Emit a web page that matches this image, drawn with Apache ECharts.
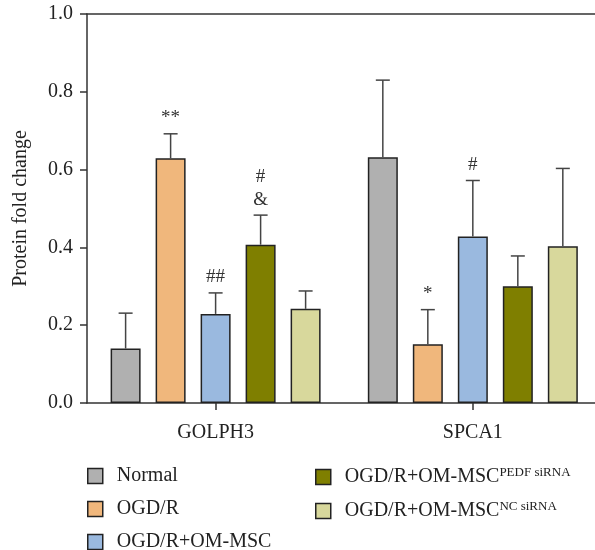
<!DOCTYPE html>
<html>
<head>
<meta charset="utf-8">
<script src="https://cdn.jsdelivr.net/npm/echarts@6/dist/echarts.min.js"></script>
<style>
html, body { margin: 0; padding: 0; background: #fff; }
#chart { width: 595px; height: 550px; }
</style>
</head>
<body>
<div id="chart"></div>
<script>
// categories and groups
var categories = ['GOLPH3', 'SPCA1']
var groups = ['Normal', 'OGD/R', 'OGD/R+OM-MSC', 'OGD/R+OM-MSC PEDF siRNA', 'OGD/R+OM-MSC NC siRNA']
var yTicks = [0, 0.2, 0.4, 0.6, 0.8, 1.0]

// means, per group (GOLPH3, SPCA1)
var normal = [0.140, 0.632]
var ogdr = [0.629, 0.151]
var omMsc = [0.229, 0.428]
var pedf = [0.407, 0.300]
var nc = [0.242, 0.403]

// SD (upper error bar only)
var normalSd = [0.091, 0.198]
var ogdrSd = [0.063, 0.089]
var omMscSd = [0.054, 0.144]
var pedfSd = [0.076, 0.078]
var ncSd = [0.046, 0.200]

// significance marks
var normalMark = ['', '']
var ogdrMark = ['**', '*']
var omMscMark = ['##', '#']
var pedfMark = ['#\n&', '']
var ncMark = ['', '']

var means = [normal, ogdr, omMsc, pedf, nc]
var sds = [normalSd, ogdrSd, omMscSd, pedfSd, ncSd]
var marks = [normalMark, ogdrMark, omMscMark, pedfMark, ncMark]
var colors = ['#b0b0b0', '#f0b77c', '#9ab9df', '#7f7f00', '#d8d89c']

var FONT = 'Liberation Serif'
var barW = 30
var step = 45
// x runs past the right edge of the picture, as in the original
var xMin = -0.5
var xMax = 1.475

var chart = echarts.init(document.getElementById('chart'))

var series = []
groups.forEach(function (g, i) {
  series.push({
    name: g,
    type: 'bar',
    data: means[i].map(function (v, k) { return [k, v] }),
    barWidth: barW,
    barGap: '50%',
    itemStyle: { color: colors[i], borderColor: '#222', borderWidth: 1.5 }
  })
})
groups.forEach(function (g, i) {
  series.push({
    name: g + ' err',
    type: 'custom',
    z: 3,
    data: means[i].map(function (v, k) { return [k, v, v + sds[i][k]] }),
    renderItem: function (params, api) {
      var k = api.value(0)
      var dx = (i - 2) * step
      var base = api.coord([k, api.value(1)])
      var top = api.coord([k, api.value(2)])
      var x = base[0] + dx
      var mark = marks[i][k]
      var children = [
        { type: 'line', shape: { x1: x, y1: base[1], x2: x, y2: top[1] }, style: { stroke: '#444', lineWidth: 1.5 } },
        { type: 'line', shape: { x1: x - 7, y1: top[1], x2: x + 7, y2: top[1] }, style: { stroke: '#444', lineWidth: 1.5 } }
      ]
      if (mark) {
        children.push({
          type: 'text',
          style: {
            x: x, y: top[1] - 4, text: mark,
            font: '19px ' + FONT, fill: '#333',
            align: 'center', verticalAlign: 'bottom', lineHeight: 23
          }
        })
      }
      return { type: 'group', children: children }
    }
  })
})

var rich = {
  m: { fontFamily: FONT, fontSize: 20, color: '#222' },
  s: { fontFamily: FONT, fontSize: 13, color: '#222', verticalAlign: 'top', padding: [0, 0, 9, 0] }
}
function legendFmt (name) {
  if (name === groups[3]) return '{m|OGD/R+OM-MSC}{s|PEDF siRNA}'
  if (name === groups[4]) return '{m|OGD/R+OM-MSC}{s|NC siRNA}'
  return '{m|' + name + '}'
}
var legendBase = {
  orient: 'vertical',
  height: 120,
  itemWidth: 15,
  itemHeight: 15,
  itemGap: 13,
  icon: 'rect',
  itemStyle: { borderColor: '#222', borderWidth: 1.5 },
  formatter: legendFmt,
  textStyle: { fontFamily: FONT, fontSize: 20, color: '#222', padding: [0, 0, 0, 9], rich: rich }
}

chart.setOption({
  animation: false,
  textStyle: { fontFamily: FONT },
  grid: { left: 87, top: 14, bottom: 147, right: 0 },
  legend: [
    Object.assign({}, legendBase, { data: groups.slice(0, 3), left: 82, top: 461 }),
    Object.assign({}, legendBase, { data: groups.slice(3), left: 310, top: 461 })
  ],
  xAxis: [
    {
      type: 'value',
      min: xMin,
      max: xMax,
      splitLine: { show: false },
      axisLine: { onZero: false, lineStyle: { color: '#333', width: 1.5 } },
      axisTick: { length: 7, customValues: [0, 1], lineStyle: { color: '#333', width: 1.5 } },
      axisLabel: {
        fontFamily: FONT, fontSize: 20, color: '#222', margin: 20,
        customValues: [0, 1],
        formatter: function (v) { return categories[Math.round(v)] }
      }
    },
    {
      type: 'value',
      position: 'top',
      min: xMin,
      max: xMax,
      splitLine: { show: false },
      axisLine: { show: true, onZero: false, lineStyle: { color: '#333', width: 1.5 } },
      axisTick: { show: false },
      axisLabel: { show: false }
    }
  ],
  yAxis: {
    type: 'value',
    min: 0,
    max: 1.0,
    interval: 0.2,
    name: 'Protein fold change',
    nameLocation: 'middle',
    nameGap: 56,
    nameTextStyle: { fontFamily: FONT, fontSize: 20, color: '#222' },
    splitLine: { show: false },
    axisLine: { show: true, onZero: false, lineStyle: { color: '#333', width: 1.5 } },
    axisTick: { show: true, length: 7, lineStyle: { color: '#333', width: 1.5 } },
    axisLabel: {
      fontFamily: FONT, fontSize: 20, color: '#222', margin: 14,
      formatter: function (v) { return v.toFixed(1) }
    }
  },
  series: series
})
</script>
</body>
</html>
